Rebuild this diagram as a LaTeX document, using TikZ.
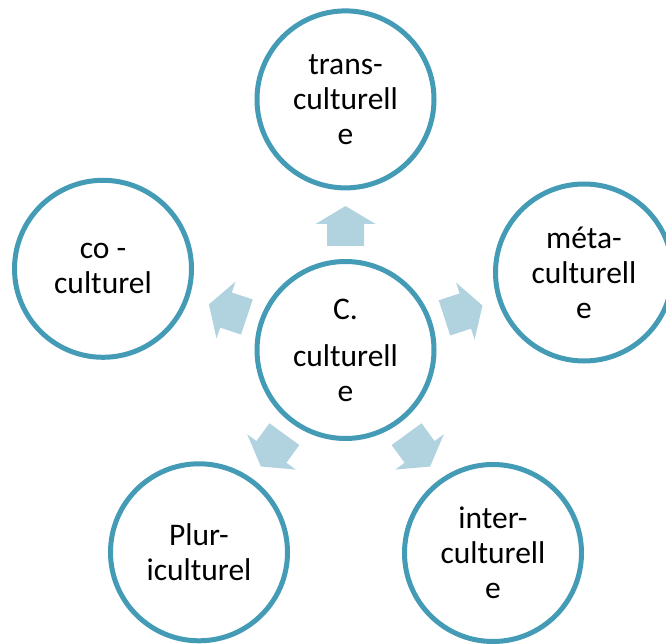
\documentclass[tikz,border=0pt]{standalone}
\usepackage{fontspec}
\setmainfont{Carlito}
\definecolor{ring}{RGB}{68,155,181}
\definecolor{arrowfill}{RGB}{177,211,223}
\begin{document}
\begin{tikzpicture}[x=1pt,y=1pt,
  bubble/.style={circle, draw=ring, line width=5pt, minimum size=177pt,
    inner sep=0pt, align=center, fill=white,
    font=\fontsize{31.5}{35}\selectfont},
  blockarrow/.style={fill=arrowfill, draw=none}]
\useasboundingbox (0,0) rectangle (666,643);
\clip (0,0) rectangle (666,643);
% hub and its five satellites
\node[bubble] (hub)   at (345.5,293)   {C.\\[12pt]culturell\\e};
\node[bubble] (trans) at (345.5,543.6) {trans-\\culturell\\e};
\node[bubble] (co)    at (103,374.2)   {co -\\culturel};
\node[bubble] (meta)  at (584,370.5)   {méta-\\culturell\\e};
\node[bubble] (plur)  at (199,90.7)    {Plur-\\iculturel};
\node[bubble] (inter) at (493,90)      {inter-\\culturell\\e};
% block arrows radiating from the hub
\foreach \a in {90,161.5,18,234,306}
  \path[blockarrow, shift={(hub.center)}, rotate=\a]
    (104,-18.5) -- (126,-18.5) -- (126,-30) -- (144,0) -- (126,30)
    -- (126,18.5) -- (104,18.5) -- cycle;
\end{tikzpicture}
\end{document}
